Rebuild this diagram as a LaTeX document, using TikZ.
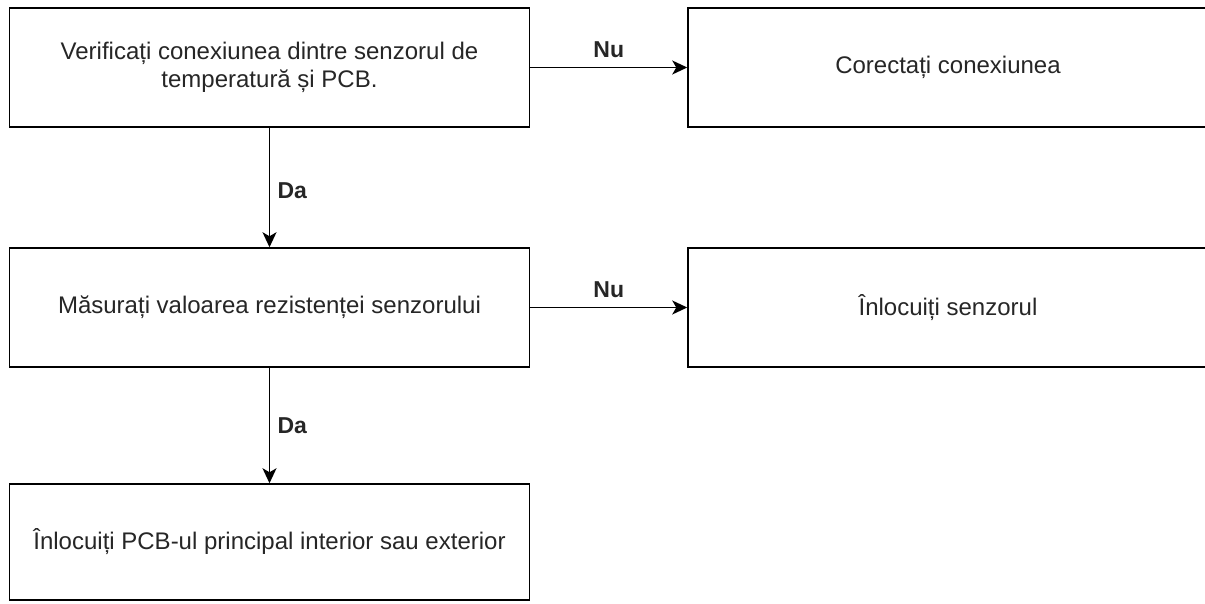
\documentclass[tikz,border=0pt]{standalone}
\usepackage{fontspec}
\setmainfont{Liberation Sans}
\usetikzlibrary{arrows.meta}
\begin{document}
\begin{tikzpicture}[x=1pt,y=1pt,
  stepbox/.style={draw=black,line width=1.5pt,fill=white,rectangle,
    minimum width=520pt,minimum height=119pt,inner sep=0pt,align=center,
    font=\fontsize{24}{28}\selectfont,text=black!85},
  flow/.style={draw=black,line width=1.5pt,-{Stealth[length=15pt,width=14pt,inset=4pt]}},
  lbl/.style={font=\bfseries\fontsize{23}{26}\selectfont,text=black!85}]
\useasboundingbox (0,0) rectangle (1205,-604);
\node[stepbox] (check) at (269.5,-67.5) {Verificați conexiunea dintre senzorul de\\temperatură și PCB.};
\node[stepbox] (fixconn) at (948,-67.5) {Corectați conexiunea};
\node[stepbox] (measure) at (269.5,-307.5) {Măsurați valoarea rezistenței senzorului};
\node[stepbox] (sensor) at (948,-307.5) {Înlocuiți senzorul};
\node[stepbox,minimum height=116pt] (pcb) at (269.5,-542) {Înlocuiți PCB-ul principal interior sau exterior};
\draw[flow] (check.east) -- (fixconn.west) node[lbl,midway,above=6pt] {Nu};
\draw[flow] (check.south) -- (measure.north) node[lbl,midway,right=4pt,yshift=-3pt] {Da};
\draw[flow] (measure.east) -- (sensor.west) node[lbl,midway,above=6pt] {Nu};
\draw[flow] (measure.south) -- (pcb.north) node[lbl,midway,right=4pt] {Da};
\end{tikzpicture}
\end{document}
